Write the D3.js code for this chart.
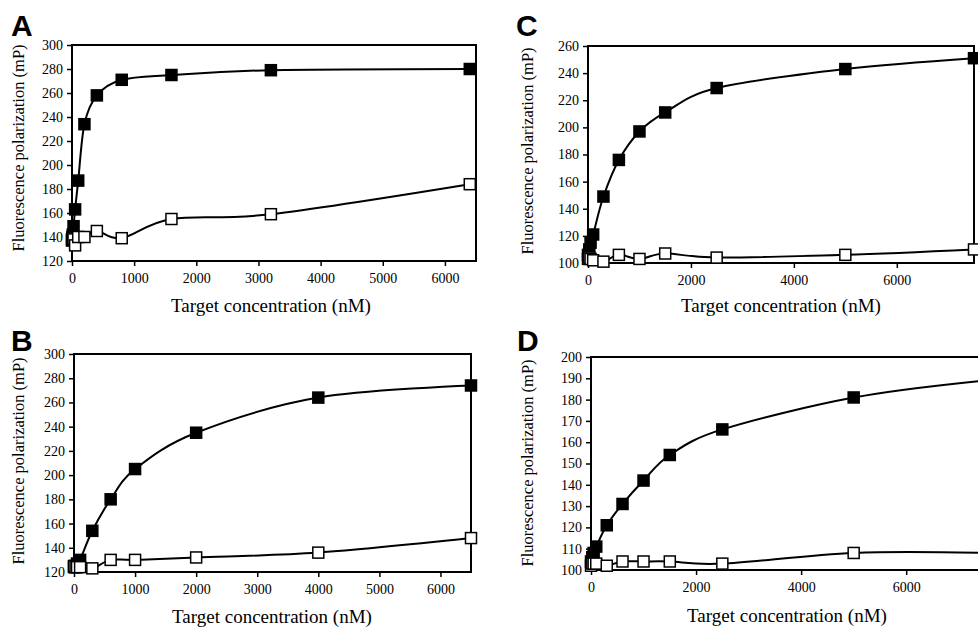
<!DOCTYPE html>
<html>
<head>
<meta charset="utf-8">
<script src="https://cdn.jsdelivr.net/npm/d3@7"></script>
</head>
<body style="margin:0">
<div id="chart"></div>
<script>
// Panel A data
const aConc = [0, 6.25, 12.5, 25, 50, 100, 200, 400, 800, 1600, 3200, 6400];
const aFilled = [137, 139, 142, 149, 163, 187, 234, 258, 271, 275, 279, 280];
const aOpen = [138, 140, 139, 138, 133, 140, 140, 145, 139, 155, 159, 184];
const aYTicks = [120, 140, 160, 180, 200, 220, 240, 260, 280, 300];
const aXTicks = [0, 1000, 2000, 3000, 4000, 5000, 6000];

// Panel B data
const bConc = [0, 25, 50, 100, 300, 600, 1000, 2000, 4000, 6500];
const bFilled = [124, 125, 127, 130, 154, 180, 205, 235, 264, 274];
const bOpen = [125, 124, 124, 124, 123, 130, 130, 132, 136, 148];
const bYTicks = [120, 140, 160, 180, 200, 220, 240, 260, 280, 300];
const bXTicks = [0, 1000, 2000, 3000, 4000, 5000, 6000];

// Panel C data
const cConc = [0, 25, 50, 100, 300, 600, 1000, 1500, 2500, 5000, 7500];
const cFilled = [106, 110, 115, 121, 149, 176, 197, 211, 229, 243, 251];
const cOpen = [103, 104, 103, 102, 101, 106, 103, 107, 104, 106, 110];
const cYTicks = [100, 120, 140, 160, 180, 200, 220, 240, 260];
const cXTicks = [0, 2000, 4000, 6000];

// Panel D data
const dConc = [0, 25, 50, 100, 300, 600, 1000, 1500, 2500, 5000, 7500];
const dFilled = [104, 106, 108, 111, 121, 131, 142, 154, 166, 181, 189];
const dOpen = [102, 103, 103, 103, 102, 104, 104, 104, 103, 108, 108];
const dYTicks = [100, 110, 120, 130, 140, 150, 160, 170, 180, 190, 200];
const dXTicks = [0, 2000, 4000, 6000];

const yTitle = 'Fluorescence polarization (mP)';
const xTitle = 'Target concentration (nM)';

const serif = "'Liberation Serif'";
const sans = "'Liberation Sans'";

const svg = d3.select('#chart')
    .append('svg')
    .attr('width', 978)
    .attr('height', 628);

const panels = [
    { label: 'A', conc: aConc, filled: aFilled, open: aOpen, yTicks: aYTicks, xTicks: aXTicks,
      xMax: 6500, left: 72, top: 45, right: 476, bottom: 261, lx: 11, ly: 36, ytx: 18, yty: 148, xtx: 271, xtb: 312 },
    { label: 'B', conc: bConc, filled: bFilled, open: bOpen, yTicks: bYTicks, xTicks: bXTicks,
      xMax: 6500, left: 74, top: 354, right: 471, bottom: 572, lx: 11, ly: 351, ytx: 18, yty: 461, xtx: 272, xtb: 623 },
    { label: 'C', conc: cConc, filled: cFilled, open: cOpen, yTicks: cYTicks, xTicks: cXTicks,
      xMax: 7500, left: 588, top: 46, right: 974, bottom: 263, lx: 516, ly: 36, ytx: 527, yty: 151, xtx: 781, xtb: 312 },
    { label: 'D', conc: dConc, filled: dFilled, open: dOpen, yTicks: dYTicks, xTicks: dXTicks,
      xMax: 7500, left: 591, top: 357, right: 985, bottom: 570, lx: 517, ly: 351, ytx: 527, yty: 463, xtx: 787, xtb: 622 }
];

const markerSize = 11;

panels.forEach((p) => {
    const g = svg.append('g');
    const x = d3.scaleLinear().domain([0, p.xMax]).range([p.left, p.right]);
    const y = d3.scaleLinear().domain(d3.extent(p.yTicks)).range([p.bottom, p.top]);

    // y axis ticks and labels
    const yAxis = g.append('g')
        .attr('transform', `translate(${p.left},0)`)
        .call(d3.axisLeft(y).tickValues(p.yTicks).tickSize(5).tickPadding(4));
    yAxis.select('.domain').remove();
    yAxis.selectAll('line').attr('stroke', '#000').attr('stroke-width', 1.5);
    yAxis.selectAll('text')
        .style('font-family', serif)
        .style('font-size', '14px')
        .attr('fill', '#000');

    // x axis ticks and labels
    const xAxis = g.append('g')
        .attr('transform', `translate(0,${p.bottom})`)
        .call(d3.axisBottom(x).tickValues(p.xTicks).tickSize(5).tickPadding(7).tickFormat(d3.format('d')));
    xAxis.select('.domain').remove();
    xAxis.selectAll('line').attr('stroke', '#000').attr('stroke-width', 1.5);
    xAxis.selectAll('text')
        .style('font-family', serif)
        .style('font-size', '14px')
        .attr('fill', '#000');

    // plot frame
    g.append('rect')
        .attr('x', p.left)
        .attr('y', p.top)
        .attr('width', p.right - p.left)
        .attr('height', p.bottom - p.top)
        .attr('fill', 'none')
        .attr('stroke', '#000')
        .attr('stroke-width', 2);

    const line = d3.line()
        .x((d) => x(d[0]))
        .y((d) => y(d[1]))
        .curve(d3.curveCardinal.tension(0));

    const series = [
        { values: p.filled, fill: '#000' },
        { values: p.open, fill: '#fff' }
    ];
    series.forEach((s) => {
        const pts = p.conc.map((c, i) => [c, s.values[i]]);
        g.append('path')
            .datum(pts)
            .attr('d', line)
            .attr('fill', 'none')
            .attr('stroke', '#000')
            .attr('stroke-width', 2);
        g.selectAll(null)
            .data(pts)
            .enter()
            .append('rect')
            .attr('x', (d) => x(d[0]) - markerSize / 2)
            .attr('y', (d) => y(d[1]) - markerSize / 2)
            .attr('width', markerSize)
            .attr('height', markerSize)
            .attr('fill', s.fill)
            .attr('stroke', '#000')
            .attr('stroke-width', 1.5);
    });

    // axis titles
    g.append('text')
        .attr('transform', `translate(${p.ytx},${p.yty}) rotate(-90)`)
        .attr('text-anchor', 'middle')
        .attr('dominant-baseline', 'central')
        .style('font-family', serif)
        .style('font-size', '16.5px')
        .text(yTitle);

    g.append('text')
        .attr('x', p.xtx)
        .attr('y', p.xtb)
        .attr('text-anchor', 'middle')
        .style('font-family', serif)
        .style('font-size', '19px')
        .text(xTitle);

    // panel letter
    g.append('text')
        .attr('x', p.lx)
        .attr('y', p.ly)
        .style('font-family', sans)
        .style('font-weight', 'bold')
        .style('font-size', '30px')
        .text(p.label);
});
</script>
</body>
</html>
